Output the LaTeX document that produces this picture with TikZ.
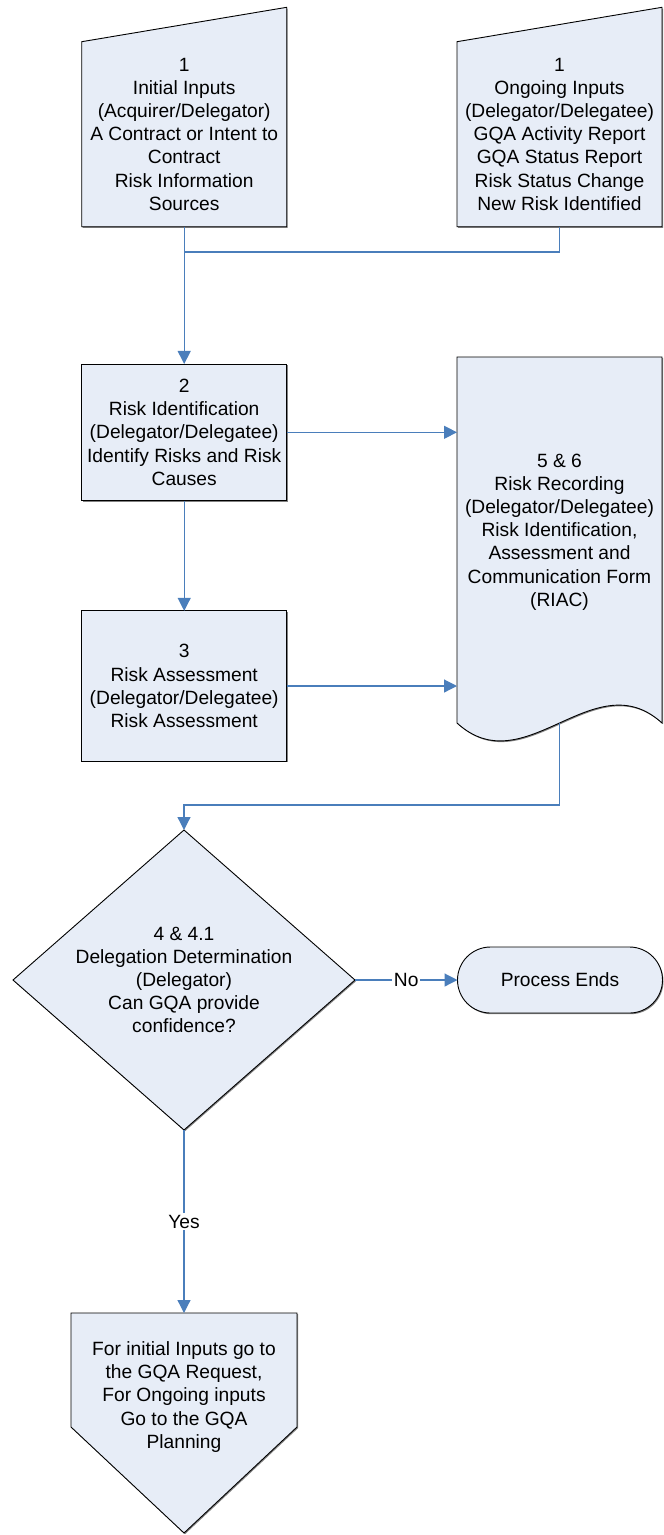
\documentclass[tikz,border=0pt]{standalone}
\usepackage{fontspec}
\setmainfont{Liberation Sans}
\usetikzlibrary{arrows.meta,shapes.geometric,shapes.misc,calc,backgrounds,shadows}
\definecolor{boxfill}{RGB}{231,237,247}
\definecolor{flow}{RGB}{74,126,187}
\begin{document}
\begin{tikzpicture}[x=1pt,y=-1pt,
  every node/.style={font=\fontsize{19.2}{23.2}\selectfont, align=center, inner sep=0pt, outer sep=0pt},
  area/.style={rectangle, minimum width=205pt},
  shadowed/.style={drop shadow={shadow xshift=1pt,shadow yshift=-1.2pt,fill=black!70,opacity=0.7}},
  outline/.style={draw=black, line width=0.9pt, fill=boxfill, shadowed},
  procbox/.style={rectangle, outline, minimum width=205pt},
  link/.style={draw=flow, line width=1.2pt},
  arr/.style={link, -{Triangle[length=13pt,width=13pt]}},
  lbl/.style={fill=white, inner sep=1.5pt}
]
\useasboundingbox (0,0) rectangle (664,1535);

% manual input: initial inputs
\node[area, minimum height=185pt] (in1) at (184.2,134.2)
  {1\\Initial Inputs\\(Acquirer/Delegator)\\A Contract or Intent to\\Contract\\Risk Information\\Sources};
% manual input: ongoing inputs
\node[area, minimum height=185pt] (in2) at (559.5,134.2)
  {1\\Ongoing Inputs\\(Delegator/Delegatee)\\GQA Activity Report\\GQA Status Report\\Risk Status Change\\New Risk Identified};

% process steps
\node[procbox, minimum height=136.7pt] (b2) at (184.2,432.3)
  {2\\Risk Identification\\(Delegator/Delegatee)\\Identify Risks and Risk\\Causes};
\node[procbox, minimum height=150.3pt] (b3) at (184.2,686)
  {3\\Risk Assessment\\(Delegator/Delegatee)\\Risk Assessment};

% document: risk recording
\node[area, minimum height=366pt] (doc) at (559.5,540) {};
\node (doctext) at (559.5,532)
  {5 \& 6\\Risk Recording\\(Delegator/Delegatee)\\Risk Identification,\\Assessment and\\Communication Form\\(RIAC)};

% decision
\node[diamond, outline, minimum width=342pt, minimum height=300pt] (dec) at (184,980) {};
\node (dectext) at (dec.center)
  {4 \& 4.1\\Delegation Determination\\(Delegator)\\Can GQA provide\\confidence?};

% terminator
\node[rounded rectangle, outline, minimum width=205pt, minimum height=66pt] (end) at (560,980) {Process Ends};

% off-page connector
\node[area, minimum width=226pt, minimum height=114pt] (fin) at (184,1370) {};
\node (fintext) at (184,1397)
  {For initial Inputs go to\\the GQA Request,\\For Ongoing inputs\\Go to the GQA\\Planning};

\begin{scope}[on background layer]
  \path[outline] (in1.south west) -- (in1.south east) -- ($(in1.north east)+(0,-34.4)$)
    -- (in1.north west) -- cycle;
  \path[outline] (in2.south west) -- (in2.south east) -- ($(in2.north east)+(0,-34.4)$)
    -- (in2.north west) -- cycle;
  \path[outline] (doc.north west) -- (doc.north east) -- (doc.south east)
    .. controls +(-68,-62) and +(68,62) .. (doc.south west) -- cycle;
  \path[outline] (fin.north west) -- (fin.north east) -- (fin.south east)
    -- ($(fin.south)+(0,106)$) -- (fin.south west) -- cycle;
\end{scope}

% connectors
\coordinate (j1) at (184.2,252);
\draw[link] (in2.south) |- (j1);
\draw[arr] (in1.south) -- (b2.north);
\draw[arr] (b2.south) -- (b3.north);
\draw[arr] (b2.east) -- (b2.east -| doc.west);
\draw[arr] (b3.east) -- (b3.east -| doc.west);
\draw[arr] (doc.south) -- ++(0,82) -| (dec.north);
\draw[arr] (dec.east) -- node[lbl] {No} (end.west);
\draw[arr] (dec.south) -- node[lbl] {Yes} (fin.north);
\end{tikzpicture}
\end{document}
